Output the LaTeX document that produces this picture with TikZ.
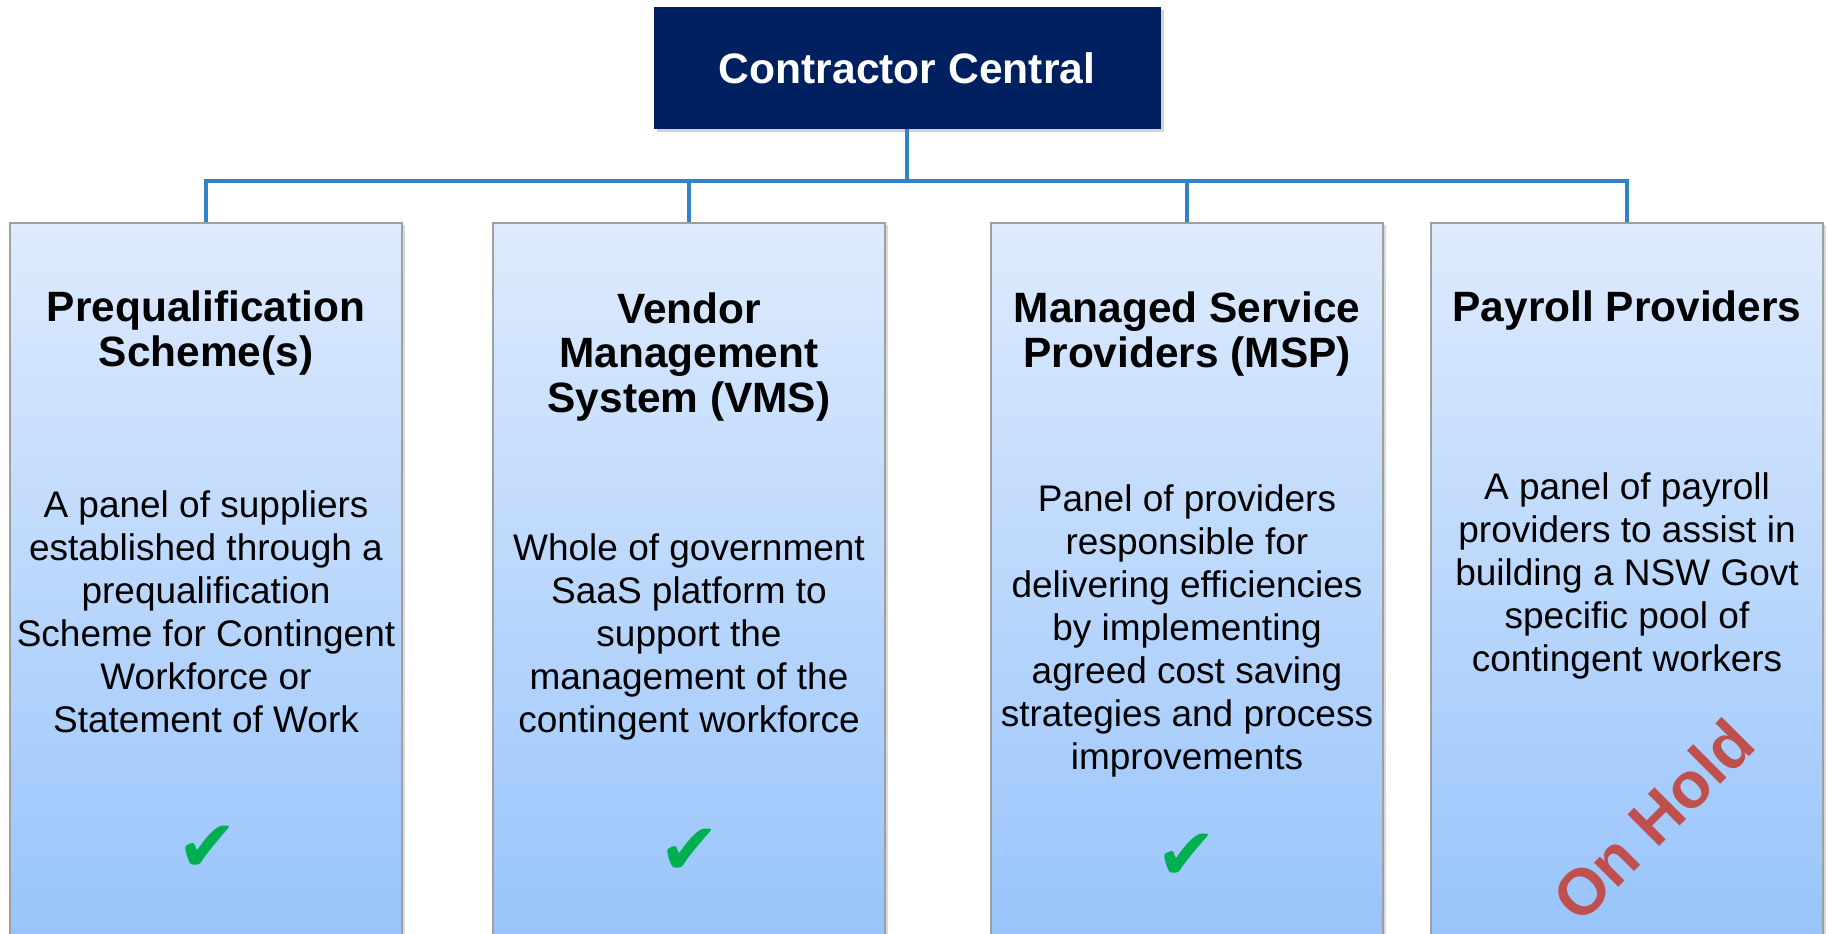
\documentclass[tikz,border=0pt]{standalone}
\usepackage{fontspec}
\setmainfont{Liberation Sans}
\newfontfamily\symfont{DejaVu Sans}
\usetikzlibrary{shadows}

\definecolor{navy}{HTML}{002060}
\definecolor{linkblue}{HTML}{3282C8}
\definecolor{tickgreen}{HTML}{00B050}
\definecolor{holdred}{HTML}{C0504D}
\definecolor{panetop}{HTML}{DEEBFD}
\definecolor{panebot}{HTML}{98C4FB}

\tikzset{
  hub/.style={fill=navy, text=white, minimum width=253.5pt, minimum height=61pt,
    font=\bfseries\fontsize{21.3}{22}\selectfont,
    drop shadow={shadow xshift=1.5pt, shadow yshift=-1.5pt, opacity=0.35}},
  pane/.style={draw=gray!75, line width=0.8pt, top color=panetop, bottom color=panebot,
    minimum width=196pt, minimum height=357pt, anchor=north,
    drop shadow={shadow xshift=1.5pt, shadow yshift=-1pt, opacity=0.3}},
  head/.style={align=center, font=\bfseries\fontsize{21.2}{22.2}\selectfont},
  blurb/.style={align=center, font=\fontsize{18.5}{21.5}\selectfont},
  tick/.style={text=tickgreen, font=\symfont\fontsize{36}{36}\selectfont},
  link/.style={draw=linkblue, line width=2.2pt}
}

\begin{document}
\begin{tikzpicture}[x=0.5pt,y=-0.5pt] % one unit = one pixel of the reference
\useasboundingbox (0,0) rectangle (1829,933);

% top of the tree
\node[hub] (hub) at (907,68) {Contractor Central};
\coordinate (bus) at (907,181);

% the four panes
\node[pane] (pq)  at (206,222) {};
\node[pane] (vms) at (689,222) {};
\node[pane] (msp) at (1187,222) {};
\node[pane] (pay) at (1627,222) {};

% connectors
\draw[link] (hub.south) -- (bus);
\foreach \p in {pq,vms,msp,pay}
  \draw[link] (bus) -| (\p.north);

% headings
\node[head] (pqhead)  at (206,333)  {Prequalification\\Scheme(s)};
\node[head] (vmshead) at (689,357)  {Vendor\\Management\\System (VMS)};
\node[head] (msphead) at (1187,334) {Managed Service\\Providers (MSP)};
\node[head] (payhead) at (1627,311) {Payroll Providers};

% descriptions
\node[blurb] (pqtext)  at (206,612)  {A panel of suppliers\\established through a\\prequalification\\Scheme for Contingent\\Workforce or\\Statement of Work};
\node[blurb] (vmstext) at (689,637)  {Whole of government\\SaaS platform to\\support the\\management of the\\contingent workforce};
\node[blurb] (msptext) at (1187,631) {Panel of providers\\responsible for\\delivering efficiencies\\by implementing\\agreed cost saving\\strategies and process\\improvements};
\node[blurb] (paytext) at (1627,576) {A panel of payroll\\providers to assist in\\building a NSW Govt\\specific pool of\\contingent workers};

% status marks
\node[tick] (pqtick)  at (208,849)  {✔};
\node[tick] (vmstick) at (690,852)  {✔};
\node[tick] (msptick) at (1187,857) {✔};
\node[rotate=45, text=holdred, font=\bfseries\fontsize{32.5}{34}\selectfont] (hold) at (1653,820) {On Hold};

\end{tikzpicture}
\end{document}
